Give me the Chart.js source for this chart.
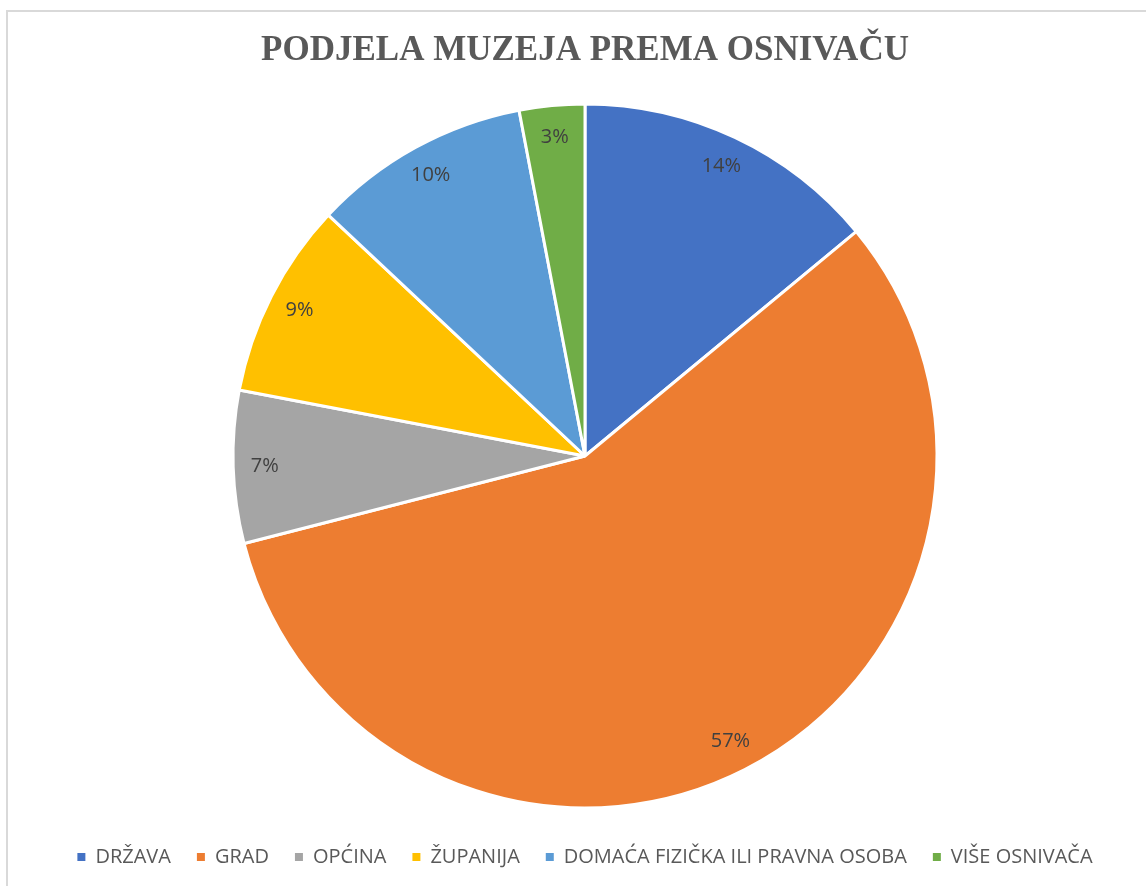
<!DOCTYPE html>
<html>
<head>
<meta charset="utf-8">
<script src="https://cdn.jsdelivr.net/npm/chart.js@4.4.0/dist/chart.umd.min.js"></script>
<style>
  html, body { margin: 0; padding: 0; background: #fff; }
  #wrap { position: relative; width: 1146px; height: 886px; overflow: hidden; }
  #frame { position: absolute; left: 6px; top: 10px; width: 1200px; height: 900px;
           border-left: 2px solid #d9d9d9; border-top: 2px solid #d9d9d9; }
  canvas { position: absolute; left: 0; top: 0; }
</style>
</head>
<body>
<div id="wrap">
  <div id="frame"></div>
  <canvas id="pieChart" width="1146" height="886"></canvas>
</div>
<script>
const categories = ['DRŽAVA', 'GRAD', 'OPĆINA', 'ŽUPANIJA', 'DOMAĆA FIZIČKA ILI PRAVNA OSOBA', 'VIŠE OSNIVAČA'];
const shares = [14, 57, 7, 9, 10, 3];
const colors = ['#4472C4', '#ED7D31', '#A5A5A5', '#FFC000', '#5B9BD5', '#70AD47'];

// percentage labels placed inside each slice, near the rim
const sliceLabels = {
  id: 'sliceLabels',
  afterDatasetsDraw(chart) {
    const ctx = chart.ctx;
    const meta = chart.getDatasetMeta(0);
    const total = shares.reduce((a, b) => a + b, 0);
    ctx.save();
    ctx.font = '20px "Open Sans"';
    ctx.fillStyle = '#404040';
    ctx.textAlign = 'center';
    ctx.textBaseline = 'middle';
    meta.data.forEach((arc, i) => {
      const mid = (arc.startAngle + arc.endAngle) / 2;
      const r = arc.outerRadius * 0.91;
      const x = arc.x + Math.cos(mid) * r;
      const y = arc.y + Math.sin(mid) * r;
      ctx.fillText(Math.round(shares[i] / total * 100) + '%', x, y);
    });
    ctx.restore();
  }
};

const pieLegendLabels = Chart.controllers.pie.overrides.plugins.legend.labels.generateLabels;

new Chart(document.getElementById('pieChart'), {
  type: 'pie',
  data: {
    labels: categories,
    datasets: [{
      data: shares,
      backgroundColor: colors,
      borderColor: '#ffffff',
      borderWidth: 3
    }]
  },
  options: {
    responsive: false,
    animation: false,
    radius: 352,
    layout: { padding: { left: 24, right: 0, top: 0, bottom: 9 } },
    plugins: {
      title: {
        display: true,
        text: 'PODJELA MUZEJA PREMA OSNIVAČU',
        color: '#595959',
        font: { family: '"Liberation Serif", "Times New Roman", serif', size: 35, weight: 'bold' },
        padding: { top: 30, bottom: 19 }
      },
      legend: {
        position: 'bottom',
        labels: {
          color: '#595959',
          font: { family: '"Open Sans"', size: 20 },
          boxWidth: 8,
          boxHeight: 8,
          padding: 26,
          // plain filled squares, without the white slice border
          generateLabels(chart) {
            return pieLegendLabels(chart).map(item => Object.assign(item, { lineWidth: 0 }));
          }
        }
      },
      tooltip: { enabled: false }
    }
  },
  plugins: [sliceLabels]
});
</script>
</body>
</html>
